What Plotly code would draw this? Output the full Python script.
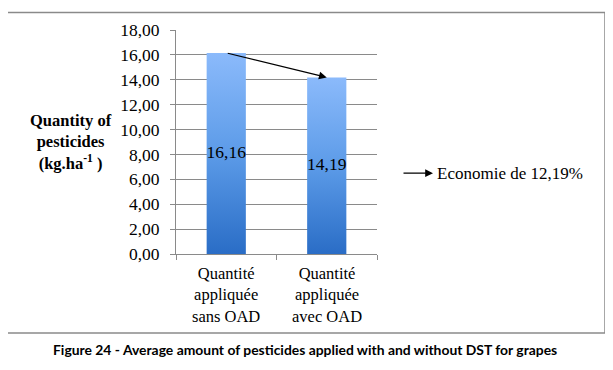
import plotly.graph_objects as go

categories = ["Quantité<br>appliquée<br>sans OAD", "Quantité<br>appliquée<br>avec OAD"]
values = [16.16, 14.19]
y_ticks = [0, 2, 4, 6, 8, 10, 12, 14, 16, 18]
saving_label = "Economie de 12,19%"
y_title = "Quantity of<br>pesticides<br>(kg.ha<sup>-1</sup> )"
caption = "Figure 24 - Average amount of pesticides applied with and without DST for grapes"

# the page body adds an 8px margin around the figure
OFF = 8
W, H = 613 - OFF, 370 - OFF
PL, PR, PT, PB = 176, 377, 24, 254          # plot area in page pixels
L, R, T, B = PL - OFF, W - (PR - OFF), PT - OFF, H - (PB - OFF)
pw, ph = PR - PL, PB - PT

def px_x(p):
    return (p - PL) / pw

def px_y(p):
    return (PB - p) / ph

SERIF = "Liberation Serif"
GRID = "#8a8a8a"
half = 0.195

fig = go.Figure()
for i, v in enumerate(values):
    fig.add_trace(go.Scatter(
        x=[i - half, i + half, i + half, i - half, i - half],
        y=[0, 0, v, v, 0],
        mode="lines", line=dict(width=0), fill="toself",
        fillgradient=dict(type="vertical",
                          colorscale=[[0, "#2a6dc6"], [0.5, "#5c9be8"], [1, "#8bbafb"]]),
        hoverinfo="skip", showlegend=False,
    ))

fig.add_trace(go.Scatter(
    x=list(range(len(values))), y=[v / 2 for v in values],
    mode="text", text=[f"{v:.2f}".replace(".", ",") for v in values],
    textfont=dict(family=SERIF, size=17.5, color="black"),
    showlegend=False, hoverinfo="skip",
))

fig.update_layout(
    width=W, height=H,
    margin=dict(l=L, r=R, t=T, b=B),
    paper_bgcolor="white", plot_bgcolor="white",
    separators=", ",
    font=dict(family=SERIF, size=17.5, color="black"),
    xaxis=dict(
        range=[-0.5, len(values) - 0.5], tickmode="array",
        tickvals=list(range(len(values))), ticktext=["" for _ in categories],
        ticks="", showgrid=False, zeroline=False,
        showline=True, linecolor=GRID, linewidth=1,
        minor=dict(tickmode="array", tickvals=[-0.5, 0.5, 1.5], ticks="outside",
                   ticklen=5, tickcolor=GRID, showgrid=False),
    ),
    yaxis=dict(
        range=[0, 18], tickmode="array", tickvals=y_ticks, tickformat=".2f",
        ticks="outside", ticklen=5, tickcolor=GRID, ticklabelstandoff=7,
        showgrid=True, gridcolor=GRID, gridwidth=1, zeroline=False,
        showline=True, linecolor=GRID, linewidth=1,
        tickfont=dict(family=SERIF, size=17.5, color="black"),
    ),
)

# category labels (multi-line)
for i, cat in enumerate(categories):
    fig.add_annotation(x=i, y=px_y(296), xref="x", yref="paper",
                       text=cat, showarrow=False, xanchor="center", yanchor="middle",
                       borderpad=0, font=dict(family=SERIF, size=16.5, color="black"))

# outer frame
fig.add_shape(type="rect", xref="paper", yref="paper",
              x0=px_x(5.5), x1=px_x(605), y0=px_y(335), y1=px_y(6),
              line=dict(color="#8a8a8a", width=1.5), fillcolor="rgba(0,0,0,0)", layer="below")

# arrow between bar tops
fig.add_annotation(x=1, y=values[1], ax=0, ay=values[0], xref="x", yref="y",
                   axref="x", ayref="y", text="", showarrow=True,
                   arrowhead=2, arrowsize=1.3, arrowwidth=1.2, arrowcolor="black", standoff=0)

# y title
fig.add_annotation(x=px_x(71), y=px_y(139.5), xref="paper", yref="paper",
                   text=f"<b>{y_title}</b>", showarrow=False, xanchor="center", yanchor="middle",
                   borderpad=0, font=dict(family=SERIF, size=16.5, color="black"))

# saving note
fig.add_annotation(x=px_x(433), y=px_y(171), xref="paper", yref="paper",
                   ax=-31, ay=0, text="", showarrow=True, arrowhead=2,
                   arrowsize=1.3, arrowwidth=1.2, arrowcolor="black", standoff=0)
fig.add_annotation(x=px_x(435), y=px_y(171), xref="paper", yref="paper",
                   text=saving_label, showarrow=False, xanchor="left", yanchor="middle",
                   font=dict(family=SERIF, size=17, color="black"))

# caption
fig.add_annotation(x=px_x(305), y=px_y(352), xref="paper", yref="paper",
                   text=f"<b>{caption}</b>", showarrow=False, xanchor="center", yanchor="middle",
                   font=dict(family="Lato", size=13.9, color="black"))

fig.write_html("out.html")
